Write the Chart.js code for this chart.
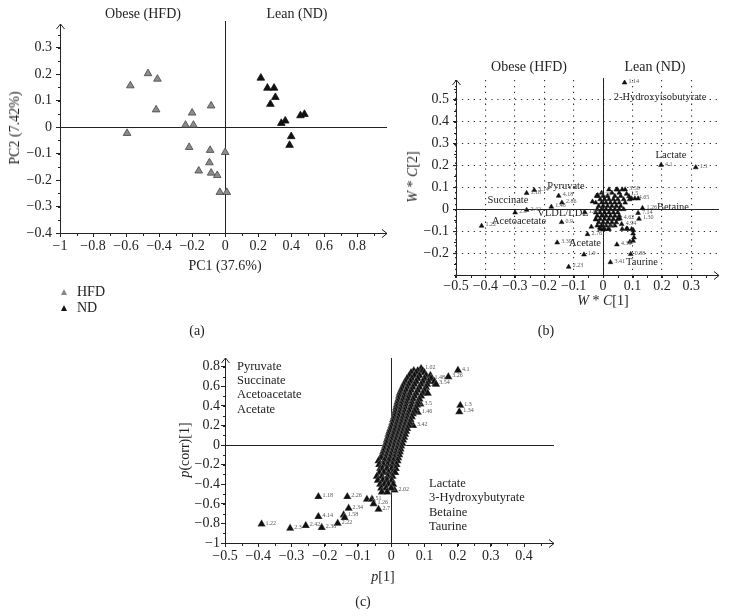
<!DOCTYPE html>
<html>
<head>
<meta charset="utf-8">
<script src="https://cdn.jsdelivr.net/npm/chart.js@4.4.0/dist/chart.umd.min.js"></script>
<style>
  body { margin: 0; background: #fff; width: 729px; height: 616px; position: relative; overflow: hidden;
         font-family: "Liberation Serif", "DejaVu Serif", serif; color: #222; }
  canvas { position: absolute; }
  .t { position: absolute; white-space: nowrap; font-size: 14px; line-height: 1; transform: translate(-50%, -50%); }
  .l { position: absolute; white-space: nowrap; font-size: 14px; line-height: 1; transform: translateY(-50%); }
  .rot { transform: translate(-50%, -50%) rotate(-90deg); }
  .s { font-size: 10.5px; }
  .m { font-size: 12.5px; }
  .tri { position: absolute; width: 0; height: 0; border-left: 3.5px solid transparent; border-right: 3.5px solid transparent; }
</style>
</head>
<body>
<canvas id="chartA" width="400" height="262" style="left:0;top:0"></canvas>
<canvas id="chartB" width="359" height="255" style="left:370px;top:50px"></canvas>
<canvas id="chartC" width="420" height="230" style="left:150px;top:340px"></canvas>

<!-- panel (a) text -->
<div class="t" style="left:143px;top:14px">Obese (HFD)</div>
<div class="t" style="left:297px;top:14px">Lean (ND)</div>
<div class="t" style="left:225px;top:266px">PC1 (37.6%)</div>
<div class="t rot" style="left:15px;top:128px">PC2 (7.42%)</div>
<div class="tri" style="left:61px;top:289px;border-bottom:6px solid #888"></div>
<div class="l" style="left:77px;top:292px">HFD</div>
<div class="tri" style="left:61px;top:305px;border-bottom:6px solid #111"></div>
<div class="l" style="left:77px;top:308px">ND</div>
<div class="t" style="left:197px;top:331px">(a)</div>

<!-- panel (b) text -->
<div class="t" style="left:529px;top:67px">Obese (HFD)</div>
<div class="t" style="left:655px;top:67px">Lean (ND)</div>
<div class="t rot" style="left:413px;top:177px"><i>W</i> * <i>C</i>[2]</div>
<div class="t" style="left:603px;top:301px"><i>W</i> * <i>C</i>[1]</div>
<div class="t" style="left:546px;top:331px">(b)</div>
<div class="t s" style="left:660px;top:97px">2-Hydroxyisobutyrate</div>
<div class="t s" style="left:671px;top:155px">Lactate</div>
<div class="t s" style="left:566px;top:186px">Pyruvate</div>
<div class="t s" style="left:508px;top:200px">Succinate</div>
<div class="t s" style="left:673px;top:207px">Betaine</div>
<div class="t s" style="left:563px;top:213px">VLDL/LDL</div>
<div class="t s" style="left:519px;top:221px">Acetoacetate</div>
<div class="t s" style="left:585px;top:243px">Acetate</div>
<div class="t s" style="left:642px;top:262px">Taurine</div>

<!-- panel (c) text -->
<div class="t rot" style="left:185px;top:450px"><i>p</i>(corr)[1]</div>
<div class="t" style="left:383px;top:577px"><i>p</i>[1]</div>
<div class="t" style="left:363px;top:602px">(c)</div>
<div class="l m" style="left:237px;top:366px">Pyruvate</div>
<div class="l m" style="left:237px;top:380px">Succinate</div>
<div class="l m" style="left:237px;top:394px">Acetoacetate</div>
<div class="l m" style="left:237px;top:409px">Acetate</div>
<div class="l m" style="left:429px;top:483px">Lactate</div>
<div class="l m" style="left:429px;top:497px">3-Hydroxybutyrate</div>
<div class="l m" style="left:429px;top:512px">Betaine</div>
<div class="l m" style="left:429px;top:526px">Taurine</div>

<script>
"use strict";

const FONT = '"Liberation Serif", "DejaVu Serif", serif';

// (a) PCA scores, [PC1, PC2]
const hfdScores = [[-0.574, 0.157], [-0.467, 0.203], [-0.41, 0.182], [-0.418, 0.066], [-0.594, -0.023],
    [-0.2, 0.054], [-0.24, 0.008], [-0.192, 0.008], [-0.085, 0.081], [-0.218, -0.076], [-0.091, -0.087],
    [0, -0.095], [-0.095, -0.134], [-0.16, -0.165], [-0.085, -0.173], [-0.048, -0.182], [-0.032, -0.246], [0.01, -0.246]];
const ndScores = [[0.216, 0.186], [0.256, 0.148], [0.296, 0.148], [0.304, 0.113], [0.274, 0.087], [0.34, 0.015],
    [0.364, 0.024], [0.456, 0.044], [0.48, 0.049], [0.40, -0.035], [0.39, -0.068]];

// (b) loadings W*C[1], W*C[2]; labelled bins and the crowded middle
const wcLabelled = [[0.073, 0.578], [0.197, 0.202], [0.315, 0.191], [-0.413, -0.076], [-0.299, -0.015], [-0.26, -0.003],
    [-0.26, 0.074], [-0.234, 0.087], [-0.151, 0.061], [-0.14, 0.03], [-0.176, 0.011], [-0.141, -0.059], [-0.156, -0.152],
    [-0.065, -0.207], [-0.117, -0.263], [0.025, -0.242], [-0.053, -0.114], [-0.062, -0.014], [0.047, -0.161], [0.094, -0.205],
    [0.134, 0.005], [0.119, -0.017], [0.122, -0.044], [0.057, -0.043], [0.063, -0.068], [-0.022, 0.061], [0.108, 0.049],
    [0.075, 0.09], [0.08, 0.07], [-0.011, -0.084]];
const wcLabels = ['1.14', '4.1', '1.3', '1.22', '2.5', '2.42', '1.18', '3.14', '4.18', '2.86', '1.48', '0.9', '3.39',
    '1.9', '2.23', '3.41', '2.76', '1.66', '4.38', '0.88', '1.26', '7.14', '1.30', '4.62', '4.94', '5.20', '4.65',
    '3.58', '1.5', '1.98'];
const wcCloud = [[-0.04, -0.08], [0.103, -0.096], [0.102, -0.111], [0.105, -0.129], [0.102, -0.144], [0.091, -0.149],
    [0.065, -0.09], [0.083, -0.09], [-0.036, 0.035], [-0.018, 0.064], [0.049, 0.09], [0.088, 0.059], [0.119, 0.049],
    [0.097, 0.049], [0, -0.093], [0.017, -0.091], [-0.025, -0.047], [0.08, -0.088], [0.097, -0.091],
    [0.02, 0.09], [0.045, 0.09], [0.065, 0.09],
    [-0.005, 0.075], [0.03, 0.075], [0.055, 0.075],
    [-0.02, 0.06], [0, 0.06], [0.015, 0.06], [0.04, 0.06], [0.06, 0.06],
    [-0.01, 0.045], [0.005, 0.045], [0.02, 0.045], [0.035, 0.045], [0.05, 0.045], [0.07, 0.045], [0.09, 0.045],
    [-0.025, 0.03], [-0.005, 0.03], [0.01, 0.03], [0.025, 0.03], [0.04, 0.03], [0.055, 0.03], [0.075, 0.03],
    [-0.015, 0.015], [0, 0.015], [0.015, 0.015], [0.03, 0.015], [0.045, 0.015], [0.06, 0.015],
    [-0.02, 0], [-0.005, 0], [0.01, 0], [0.025, 0], [0.04, 0], [0.055, 0], [0.07, 0],
    [-0.025, -0.015], [-0.01, -0.015], [0.005, -0.015], [0.02, -0.015], [0.035, -0.015], [0.05, -0.015],
    [-0.02, -0.03], [-0.005, -0.03], [0.01, -0.03], [0.025, -0.03], [0.04, -0.03], [0.055, -0.03],
    [-0.025, -0.045], [-0.01, -0.045], [0.005, -0.045], [0.02, -0.045], [0.035, -0.045], [0.05, -0.045],
    [-0.015, -0.06], [0, -0.06], [0.015, -0.06], [0.03, -0.06], [0.045, -0.06],
    [-0.02, -0.075], [-0.005, -0.075], [0.01, -0.075], [0.025, -0.075], [0.04, -0.075],
    [-0.01, -0.09], [0.005, -0.09], [0.02, -0.09]];

// (c) S-plot p[1], p(corr)[1]
const spLabelled = [[-0.39, -0.806], [-0.304, -0.85], [-0.257, -0.823], [-0.209, -0.843], [-0.219, -0.731],
    [-0.219, -0.527], [-0.132, -0.527], [-0.128, -0.646], [-0.143, -0.714], [-0.14, -0.741], [-0.161, -0.799],
    [-0.073, -0.554], [-0.058, -0.554], [-0.053, -0.6], [-0.038, -0.656], [0.201, 0.765], [0.172, 0.697],
    [0.208, 0.405], [0.205, 0.34], [0.09, 0.782], [0.133, 0.629], [0.118, 0.68], [0.088, 0.42], [0.08, 0.335],
    [0.066, 0.2], [0.01, -0.46]];
const spLabels = ['1.22', '2.3', '2.42', '2.38', '4.14', '1.18', '2.26', '2.34', '1.58', '', '2.22', '9.51', '', '1.26',
    '2.7', '4.1', '3.26', '1.3', '1.34', '1.02', '3.54', '1.48', '3.5', '1.46', '3.42', '2.02'];
const spBand = [[0.068, 0.76], [0.08, 0.76], [0.095, 0.76],
    [0.06, 0.74], [0.075, 0.74], [0.1, 0.74],
    [0.055, 0.71], [0.07, 0.71], [0.085, 0.71], [0.105, 0.71], [0.118, 0.71],
    [0.048, 0.68], [0.062, 0.68], [0.08, 0.68], [0.1, 0.68], [0.12, 0.68],
    [0.043, 0.65], [0.058, 0.65], [0.075, 0.65], [0.095, 0.65], [0.112, 0.65], [0.13, 0.65],
    [0.038, 0.62], [0.052, 0.62], [0.07, 0.62], [0.09, 0.62], [0.108, 0.62], [0.135, 0.62],
    [0.034, 0.59], [0.048, 0.59], [0.065, 0.59], [0.085, 0.59], [0.105, 0.59],
    [0.03, 0.56], [0.045, 0.56], [0.06, 0.56], [0.08, 0.56], [0.1, 0.56],
    [0.026, 0.53], [0.04, 0.53], [0.056, 0.53], [0.075, 0.53], [0.095, 0.53], [0.11, 0.53],
    [0.024, 0.5], [0.038, 0.5], [0.052, 0.5], [0.07, 0.5], [0.09, 0.5],
    [0.022, 0.47], [0.035, 0.47], [0.05, 0.47], [0.066, 0.47], [0.085, 0.47],
    [0.019, 0.44], [0.032, 0.44], [0.046, 0.44], [0.062, 0.44], [0.08, 0.44],
    [0.017, 0.41], [0.03, 0.41], [0.044, 0.41], [0.06, 0.41], [0.078, 0.41],
    [0.015, 0.38], [0.028, 0.38], [0.042, 0.38], [0.057, 0.38], [0.074, 0.38],
    [0.013, 0.35], [0.026, 0.35], [0.04, 0.35], [0.054, 0.35], [0.07, 0.35],
    [0.011, 0.32], [0.024, 0.32], [0.037, 0.32], [0.05, 0.32], [0.065, 0.32],
    [0.009, 0.29], [0.022, 0.29], [0.035, 0.29], [0.048, 0.29], [0.062, 0.29],
    [0.006, 0.26], [0.019, 0.26], [0.032, 0.26], [0.046, 0.26], [0.058, 0.26],
    [0.004, 0.23], [0.017, 0.23], [0.03, 0.23], [0.043, 0.23], [0.055, 0.23],
    [0.001, 0.2], [0.014, 0.2], [0.027, 0.2], [0.04, 0.2], [0.052, 0.2],
    [-0.002, 0.17], [0.012, 0.17], [0.025, 0.17], [0.037, 0.17], [0.048, 0.17],
    [-0.005, 0.14], [0.009, 0.14], [0.022, 0.14], [0.034, 0.14], [0.045, 0.14],
    [-0.008, 0.11], [0.006, 0.11], [0.019, 0.11], [0.031, 0.11], [0.042, 0.11],
    [-0.01, 0.08], [0.003, 0.08], [0.016, 0.08], [0.028, 0.08], [0.039, 0.08],
    [-0.013, 0.05], [0, 0.05], [0.013, 0.05], [0.025, 0.05], [0.036, 0.05],
    [-0.015, 0.02], [-0.002, 0.02], [0.01, 0.02], [0.022, 0.02], [0.033, 0.02],
    [-0.018, -0.01], [-0.005, -0.01], [0.008, -0.01], [0.02, -0.01], [0.03, -0.01],
    [-0.021, -0.04], [-0.008, -0.04], [0.005, -0.04], [0.017, -0.04], [0.028, -0.04],
    [-0.024, -0.07], [-0.011, -0.07], [0.002, -0.07], [0.014, -0.07], [0.026, -0.07],
    [-0.027, -0.1], [-0.014, -0.1], [-0.001, -0.1], [0.012, -0.1], [0.024, -0.1],
    [-0.03, -0.13], [-0.017, -0.13], [-0.004, -0.13], [0.01, -0.13], [0.021, -0.13],
    [-0.038, -0.16], [-0.02, -0.16], [-0.007, -0.16], [0.007, -0.16], [0.019, -0.16],
    [-0.036, -0.2], [-0.023, -0.2], [-0.01, -0.2], [0.004, -0.2], [0.016, -0.2],
    [-0.033, -0.24], [-0.026, -0.24], [-0.012, -0.24], [0.002, -0.24], [0.014, -0.24],
    [-0.035, -0.28], [-0.022, -0.28], [-0.008, -0.28], [0.005, -0.28], [0.012, -0.28],
    [-0.043, -0.32], [-0.028, -0.32], [-0.01, -0.32], [0.004, -0.32],
    [-0.04, -0.36], [-0.025, -0.36], [-0.012, -0.36], [0.002, -0.36],
    [-0.033, -0.4], [-0.02, -0.4], [-0.008, -0.4], [0.006, -0.4],
    [-0.03, -0.44], [-0.015, -0.44], [0, -0.44],
    [-0.028, -0.48], [-0.012, -0.48]];

function toXY(list) {
    return list.map(p => ({ x: p[0], y: p[1] }));
}

function tickFmt(v) {
    const r = Math.round(v * 100) / 100;
    return r === 0 ? '0' : String(r).replace('-', '\u2212');
}

// axis lines, arrows, zero lines, minor ticks and small point labels
const decor = {
    id: 'decor',
    beforeDatasetsDraw(chart, args, o) {
        const { ctx, chartArea: a, scales: { x, y } } = chart;
        ctx.save();
        ctx.strokeStyle = '#222';
        ctx.lineWidth = 1;
        ctx.setLineDash([]);
        const x0 = Math.round(x.getPixelForValue(0)) + 0.5;
        const y0 = Math.round(y.getPixelForValue(0)) + 0.5;
        const L = Math.round(a.left) + 0.5, B = Math.round(a.bottom) + 0.5;
        ctx.beginPath();
        ctx.moveTo(x0, a.top - o.over);
        ctx.lineTo(x0, B);
        ctx.moveTo(L, y0);
        ctx.lineTo(a.right, y0);
        ctx.moveTo(L, a.top);
        ctx.lineTo(L, B);
        ctx.lineTo(a.right, B);
        // arrow heads
        ctx.moveTo(L - 4, a.top + 5);
        ctx.lineTo(L, a.top);
        ctx.lineTo(L + 4, a.top + 5);
        ctx.moveTo(a.right - 5, B - 4);
        ctx.lineTo(a.right, B);
        ctx.lineTo(a.right - 5, B + 4);
        // minor ticks
        for (let v = x.min; v < x.max; v += o.xMinor) {
            const px = Math.round(x.getPixelForValue(v)) + 0.5;
            ctx.moveTo(px, B);
            ctx.lineTo(px, B + 2.5);
        }
        for (let v = y.min; v < y.max; v += o.yMinor) {
            const py = Math.round(y.getPixelForValue(v)) + 0.5;
            ctx.moveTo(L, py);
            ctx.lineTo(L - 2.5, py);
        }
        ctx.stroke();
        ctx.restore();
    },
    afterDatasetsDraw(chart) {
        const ctx = chart.ctx;
        ctx.save();
        ctx.font = '6px ' + FONT;
        ctx.fillStyle = '#555';
        ctx.textBaseline = 'middle';
        chart.data.datasets.forEach((ds, i) => {
            if (!ds.pointLabels) return;
            chart.getDatasetMeta(i).data.forEach((pt, j) => {
                const txt = ds.pointLabels[j];
                if (txt) ctx.fillText(txt, pt.x + 4, pt.y - 1);
            });
        });
        ctx.restore();
    }
};

function buildScales(xr, yr, s) {
    function axis(r, isX) {
        return {
            type: 'linear',
            min: r[0],
            max: r[1],
            grid: {
                display: true, drawOnChartArea: !!s.dotted, drawTicks: true, tickLength: s.tick,
                color: '#333', lineWidth: s.dotted ? 1.1 : 1, tickColor: '#222', tickBorderDash: []
            },
            border: { display: false, dash: s.dotted ? [1.3, 4.6] : [] },
            ticks: {
                stepSize: r[2], includeBounds: false, autoSkip: false, maxRotation: 0,
                padding: isX ? s.xPad : s.yPad, color: '#222',
                font: { family: FONT, size: s.font }, callback: tickFmt
            },
            afterFit: sc => { if (isX) sc.height = s.xH; else sc.width = s.yW; }
        };
    }
    return { x: axis(xr, true), y: axis(yr, false) };
}

function makeChart(id, datasets, xr, yr, s, pad, minor) {
    return new Chart(document.getElementById(id), {
        type: 'scatter',
        data: { datasets: datasets },
        options: {
            responsive: false,
            animation: false,
            layout: { padding: pad },
            scales: buildScales(xr, yr, s),
            plugins: {
                legend: { display: false },
                tooltip: { enabled: false },
                decor: minor
            }
        },
        plugins: [decor]
    });
}

// (a) scores plot
makeChart('chartA', [
    { data: toXY(hfdScores), pointStyle: 'triangle', pointRadius: 4.4, backgroundColor: '#8c8c8c', borderColor: '#444', borderWidth: 0.8 },
    { data: toXY(ndScores), pointStyle: 'triangle', pointRadius: 4.4, backgroundColor: '#111', borderColor: '#111', borderWidth: 0.8 }
], [-1, 0.98, 0.2], [-0.4, 0.39, 0.1],
    { tick: 4, xPad: 1, yPad: 4, font: 14, xH: 24, yW: 40 },
    { left: 20, right: 13, top: 24, bottom: 5 },
    { over: 3, xMinor: 0.1, yMinor: 0.05 });

// (b) loadings plot
makeChart('chartB', [
    { data: toXY(wcCloud), pointStyle: 'triangle', pointRadius: 2.8, backgroundColor: '#111', borderColor: '#111', borderWidth: 0.5 },
    { data: toXY(wcLabelled), pointLabels: wcLabels, pointStyle: 'triangle', pointRadius: 2.8, backgroundColor: '#111', borderColor: '#111', borderWidth: 0.5 }
], [-0.5, 0.394, 0.1], [-0.3, 0.59, 0.1],
    { tick: 3, xPad: 0, yPad: 4, font: 14, xH: 25, yW: 40, dotted: true },
    { left: 46, right: 10, top: 30, bottom: 5 },
    { over: 2, xMinor: 0.05, yMinor: 0.05 });

// (c) S-plot
makeChart('chartC', [
    { data: toXY(spBand), pointStyle: 'triangle', pointRadius: 4.8, backgroundColor: '#111', borderColor: 'rgba(255,255,255,0.7)', borderWidth: 0.3 },
    { data: toXY(spLabelled), pointLabels: spLabels, pointStyle: 'triangle', pointRadius: 4.8, backgroundColor: '#111', borderColor: '#fff', borderWidth: 0.3 }
], [-0.5, 0.49, 0.1], [-1, 0.89, 0.2],
    { tick: 4, xPad: 1, yPad: 1, font: 14, xH: 25, yW: 40 },
    { left: 35, right: 16, top: 18, bottom: 2 },
    { over: 0, xMinor: 0.05, yMinor: 0.1 });
</script>
</body>
</html>
